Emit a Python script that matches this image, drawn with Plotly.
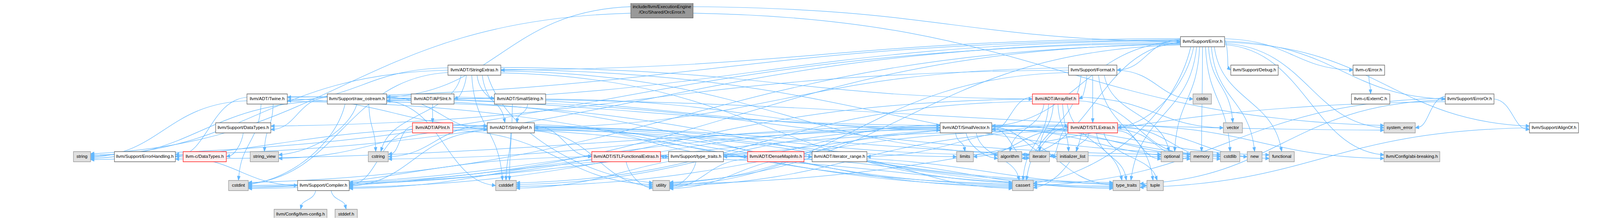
import plotly.graph_objects as go

# --- nodes: label and kind (root / white / red = truncated / gray = system header)
node_ids = [
    "root", "Error",
    "StringExtras", "Format", "Debug", "cError",
    "Twine", "raw_ostream", "APSInt", "SmallString", "ArrayRef", "cstdio", "ExternC", "ErrorOr",
    "DataTypes", "APInt", "StringRef", "SmallVector", "STLExtras", "vector", "system_error", "AlignOf",
    "string", "ErrorHandling", "cDataTypes", "string_view", "cstring", "STLFunctionalExtras",
    "type_traits_h", "DenseMapInfo", "iterator_range", "limits", "algorithm", "iterator",
    "initializer_list", "optional", "memory", "cstdlib", "new", "functional", "abi",
    "cstdint", "Compiler", "cstddef", "utility", "cassert", "type_traits", "tuple",
    "llvm_config", "stddef",
]
node_labels = [
    "include/llvm/ExecutionEngine\n/Orc/Shared/OrcError.h", "llvm/Support/Error.h",
    "llvm/ADT/StringExtras.h", "llvm/Support/Format.h", "llvm/Support/Debug.h", "llvm-c/Error.h",
    "llvm/ADT/Twine.h", "llvm/Support/raw_ostream.h", "llvm/ADT/APSInt.h", "llvm/ADT/SmallString.h",
    "llvm/ADT/ArrayRef.h", "cstdio", "llvm-c/ExternC.h", "llvm/Support/ErrorOr.h",
    "llvm/Support/DataTypes.h", "llvm/ADT/APInt.h", "llvm/ADT/StringRef.h", "llvm/ADT/SmallVector.h",
    "llvm/ADT/STLExtras.h", "vector", "system_error", "llvm/Support/AlignOf.h",
    "string", "llvm/Support/ErrorHandling.h", "llvm-c/DataTypes.h", "string_view", "cstring",
    "llvm/ADT/STLFunctionalExtras.h", "llvm/Support/type_traits.h", "llvm/ADT/DenseMapInfo.h",
    "llvm/ADT/iterator_range.h", "limits", "algorithm", "iterator", "initializer_list", "optional",
    "memory", "cstdlib", "new", "functional", "llvm/Config/abi-breaking.h",
    "cstdint", "llvm/Support/Compiler.h", "cstddef", "utility", "cassert", "type_traits", "tuple",
    "llvm/Config/llvm-config.h", "stddef.h",
]
node_kind = [
    "root", "white",
    "white", "white", "white", "white",
    "white", "white", "white", "white", "red", "gray", "white", "white",
    "white", "red", "white", "white", "red", "gray", "gray", "white",
    "gray", "white", "red", "gray", "gray", "red",
    "white", "red", "white", "gray", "gray", "gray",
    "gray", "gray", "gray", "gray", "gray", "gray", "gray",
    "gray", "white", "gray", "gray", "gray", "gray", "gray",
    "gray", "gray",
]

# --- include edges, one list per including file
inc_root = ["Error", "raw_ostream", "string", "system_error"]
inc_error = ["cError", "STLExtras", "SmallVector", "StringExtras", "Twine", "abi", "AlignOf",
             "Compiler", "Debug", "ErrorHandling", "ErrorOr", "Format", "raw_ostream", "algorithm",
             "cassert", "cstdint", "cstdlib", "functional", "memory", "new", "optional", "string",
             "system_error", "type_traits", "utility", "vector"]
inc_stringextras = ["APSInt", "ArrayRef", "SmallString", "StringRef", "Twine", "cassert", "cstddef",
                    "cstdint", "cstdlib", "cstring", "iterator", "string", "utility"]
inc_twine = ["SmallVector", "StringRef", "ErrorHandling", "cassert", "cstdint", "string", "string_view"]
inc_raw_ostream = ["SmallVector", "StringRef", "DataTypes", "cassert", "cstddef", "cstdint", "cstring",
                   "optional", "string", "string_view", "system_error", "type_traits"]
inc_apsint = ["APInt"]
inc_smallstring = ["SmallVector", "StringRef", "cstddef"]
inc_arrayref = ["SmallVector", "STLExtras", "Compiler", "algorithm", "cassert", "cstddef",
                "initializer_list", "iterator", "memory", "type_traits", "vector"]
inc_format = ["ArrayRef", "STLExtras", "StringRef", "DataTypes", "cassert", "cstdio", "optional",
              "tuple", "utility"]
inc_cerror = ["ExternC"]
inc_erroror = ["AlignOf", "cassert", "system_error", "type_traits", "utility"]
inc_datatypes = ["cDataTypes"]
inc_apint = ["Compiler", "cassert", "cstring", "optional", "utility"]
inc_stringref = ["DenseMapInfo", "STLFunctionalExtras", "iterator_range", "Compiler", "algorithm",
                 "cassert", "cstddef", "cstring", "limits", "string", "string_view", "type_traits",
                 "utility"]
inc_smallvector = ["Compiler", "type_traits_h", "algorithm", "cassert", "cstddef", "cstdint", "cstdlib",
                   "cstring", "functional", "initializer_list", "iterator", "limits", "memory", "new",
                   "type_traits", "utility"]
inc_stlextras = ["STLFunctionalExtras", "iterator_range", "abi", "ErrorHandling", "algorithm", "cassert",
                 "cstddef", "cstdint", "cstdlib", "functional", "initializer_list", "iterator", "limits",
                 "memory", "optional", "tuple", "type_traits", "utility"]
inc_alignof = ["type_traits"]
inc_errorhandling = ["Compiler"]
inc_stlfunc = ["type_traits_h", "cstdint", "type_traits", "utility"]
inc_type_traits_h = ["Compiler", "type_traits", "utility"]
inc_densemapinfo = ["cassert", "cstddef", "cstdint", "tuple", "type_traits", "utility"]
inc_iterator_range = ["utility"]
inc_compiler = ["llvm_config", "stddef"]

# --- layout (graphviz placement): box left/right edges and rank
node_x0 = [1938, 3642, 1371, 3295, 3798, 4177, 748, 997, 1257, 1515, 3183, 3681, 4172, 4463,
           651, 1261, 1493, 2897, 3293, 3775, 4273, 4724,
           210, 337, 550, 758, 1124, 1817, 2055, 2300, 2500, 2948, 3076, 3174, 3259, 3582, 3673,
           3766, 3849, 3917, 4273,
           691, 905, 1519, 2006, 3121, 3433, 3538, 832, 1021]
node_x1 = [2131, 3779, 1535, 3445, 3945, 4275, 873, 1181, 1390, 1674, 3327, 3738, 4291, 4614,
           822, 1386, 1639, 3057, 3447, 3834, 4370, 4876,
           263, 526, 684, 846, 1186, 2030, 2225, 2475, 2670, 3000, 3150, 3236, 3356, 3649, 3742,
           3826, 3895, 3995, 4446,
           752, 1065, 1583, 2058, 3186, 3516, 3589, 996, 1090]
node_rank = [0, 1, 2, 2, 2, 2, 3, 3, 3, 3, 3, 3, 3, 3, 4, 4, 4, 4, 4, 4, 4, 4,
             5, 5, 5, 5, 5, 5, 5, 5, 5, 5, 5, 5, 5, 5, 5, 5, 5, 5, 5,
             6, 6, 6, 6, 6, 6, 6, 7, 7]
rank_top = [5, 94, 167, 241, 315, 389, 463, 537]
BOX_H = 26
ROOT_H = 41

EDGE = "#63b8ff"
STYLE = {
    "root": ("#999999", "#666666"),
    "white": ("#ffffff", "#666666"),
    "red": ("#fff0f0", "#ff2020"),
    "gray": ("#e0e0e0", "#999999"),
}

idx = {n: i for i, n in enumerate(node_ids)}
edges = []
for src, lst in [("root", inc_root), ("Error", inc_error), ("StringExtras", inc_stringextras),
                 ("Twine", inc_twine), ("raw_ostream", inc_raw_ostream), ("APSInt", inc_apsint),
                 ("SmallString", inc_smallstring), ("ArrayRef", inc_arrayref), ("Format", inc_format),
                 ("cError", inc_cerror), ("ErrorOr", inc_erroror), ("DataTypes", inc_datatypes),
                 ("APInt", inc_apint), ("StringRef", inc_stringref), ("SmallVector", inc_smallvector),
                 ("STLExtras", inc_stlextras), ("AlignOf", inc_alignof),
                 ("ErrorHandling", inc_errorhandling), ("STLFunctionalExtras", inc_stlfunc),
                 ("type_traits_h", inc_type_traits_h), ("DenseMapInfo", inc_densemapinfo),
                 ("iterator_range", inc_iterator_range), ("Compiler", inc_compiler)]:
    for dst in lst:
        edges.append((idx[src], idx[dst]))


def geom(i):
    top = rank_top[node_rank[i]]
    h = ROOT_H if node_kind[i] == "root" else BOX_H
    return node_x0[i], node_x1[i], top, top + h


def centre(i):
    x0, x1, y0, y1 = geom(i)
    return (x0 + x1) / 2, (y0 + y1) / 2


# how each edge leaves / enters its boxes: long flat edges use the box sides
R_START = 2.0
R_END = 1.4
mode = []
for s, t in edges:
    sx, sy = centre(s)
    tx, ty = centre(t)
    dx, dy = tx - sx, ty - sy
    mode.append((abs(dx) > R_START * dy, abs(dx) > R_END * dy))

# spread the attachment points along each box side
start_pt = {}
end_pt = {}
for n in range(len(node_ids)):
    x0, x1, y0, y1 = geom(n)
    cy = (y0 + y1) / 2
    half = (y1 - y0) / 2 - 4
    out_b, out_l, out_r, in_t, in_l, in_r = [], [], [], [], [], []
    for k, (s, t) in enumerate(edges):
        if s == n:
            tx, ty = centre(t)
            if mode[k][0]:
                (out_r if tx > centre(n)[0] else out_l).append((ty, k))
            else:
                out_b.append((tx, k))
        if t == n:
            sx, sy = centre(s)
            if mode[k][1]:
                (in_l if sx < centre(n)[0] else in_r).append((sy, k))
            else:
                in_t.append((sx, k))
    for lst, kind in [(out_b, "b"), (out_l, "l"), (out_r, "r")]:
        lst.sort()
        m = len(lst)
        for j, (_, k) in enumerate(lst):
            f = (j + 0.5) / m
            if kind == "b":
                start_pt[k] = (x0 + (x1 - x0) * (0.2 + 0.6 * f), y1, kind)
            else:
                start_pt[k] = (x1 if kind == "r" else x0, cy - half + 2 * half * f, kind)
    for lst, kind in [(in_t, "t"), (in_l, "l"), (in_r, "r")]:
        lst.sort()
        m = len(lst)
        for j, (_, k) in enumerate(lst):
            f = (j + 0.5) / m
            if kind == "t":
                end_pt[k] = (x0 + (x1 - x0) * (0.25 + 0.5 * f), y0, kind)
            else:
                end_pt[k] = (x0 if kind == "l" else x1, cy - half + 2 * half * f, kind)

shapes = []
AL, AW = 11, 4.5
for k in range(len(edges)):
    px, py, sk = start_pt[k]
    qx, qy, ek = end_pt[k]
    ddx, ddy = qx - px, qy - py
    if sk == "b":
        c1 = (px + ddx * 0.1, py + ddy * 0.5)
    else:
        c1 = (px + ddx * 0.5, py + ddy * 0.05)
    if ek == "t":
        c2 = (qx - ddx * 0.15, qy - ddy * 0.5)
    else:
        c2 = (qx - ddx * 0.45, qy - ddy * 0.08)
    ux, uy = qx - c2[0], qy - c2[1]
    ln = (ux * ux + uy * uy) ** 0.5 or 1.0
    ux, uy = ux / ln, uy / ln
    bx, by = qx - ux * AL, qy - uy * AL
    shapes.append(dict(type="path", xref="x", yref="y", layer="below",
                       path=f"M {px:.1f},{py:.1f} C {c1[0]:.1f},{c1[1]:.1f} {c2[0]:.1f},{c2[1]:.1f} {bx:.1f},{by:.1f}",
                       line=dict(color=EDGE, width=1.2)))
    shapes.append(dict(type="path", xref="x", yref="y", layer="below",
                       path=f"M {qx:.1f},{qy:.1f} L {bx - uy * AW:.1f},{by + ux * AW:.1f} "
                            f"L {bx + uy * AW:.1f},{by - ux * AW:.1f} Z",
                       fillcolor=EDGE, line=dict(color=EDGE, width=1)))

for n in range(len(node_ids)):
    x0, x1, y0, y1 = geom(n)
    fill, border = STYLE[node_kind[n]]
    shapes.append(dict(type="rect", xref="x", yref="y", layer="below",
                       x0=x0, x1=x1, y0=y0, y1=y1, fillcolor=fill,
                       line=dict(color=border, width=1.3)))

tx, ty, tt = [], [], []
for n in range(len(node_ids)):
    cx, cy = centre(n)
    lines = node_labels[n].split("\n")
    for j, line in enumerate(lines):
        tx.append(cx)
        ty.append(cy + (j - (len(lines) - 1) / 2) * 14)
        tt.append(line)

fig = go.Figure()
fig.add_trace(go.Scatter(x=tx, y=ty, text=tt, mode="text", hoverinfo="skip",
                         textfont=dict(family="Liberation Sans, Arial, Helvetica", size=11.5,
                                       color="#000000")))
# width is left to autosize so the graph always fills the browser window;
# height 551 + the page's 8px body margins keeps it inside a 567px window
fig.update_layout(
    height=551,
    autosize=True,
    margin=dict(l=0, r=0, t=0, b=0),
    plot_bgcolor="white", paper_bgcolor="white",
    showlegend=False,
    shapes=shapes,
    xaxis=dict(range=[-8, 4933], visible=False, fixedrange=True),
    yaxis=dict(range=[559, 8], visible=False, fixedrange=True),
)
fig.write_html("out.html")
